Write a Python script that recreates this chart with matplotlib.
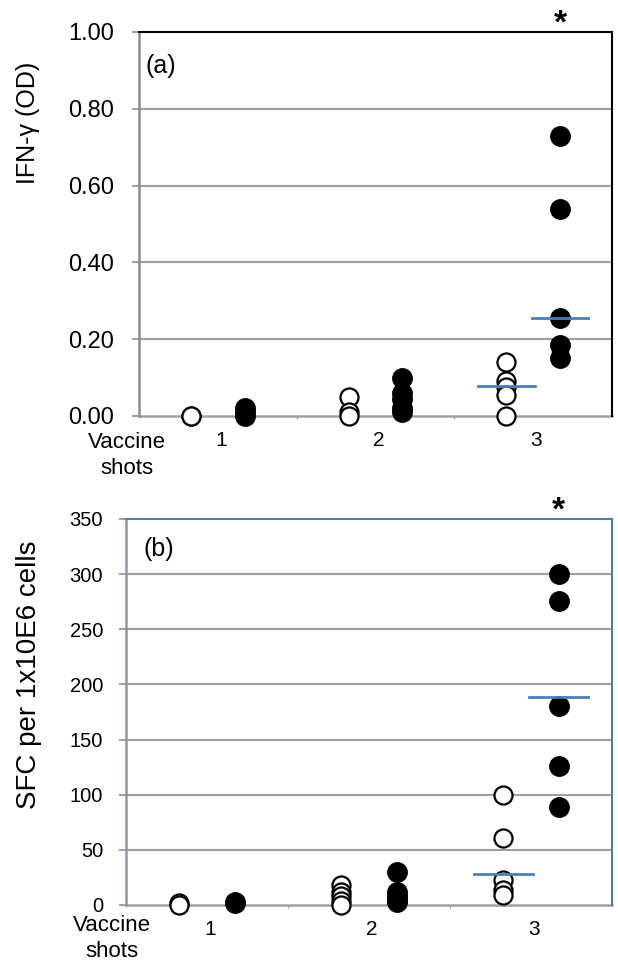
import matplotlib
matplotlib.use("Agg")
import matplotlib.pyplot as plt
import matplotlib.transforms as mtransforms

plt.rcParams['font.family'] = ['Liberation Sans', 'DejaVu Sans']

# data
shots = [1, 2, 3]
shot_labels = ['1', '2', '3']

ifn_ctrl = [[0.0, 0.0], [0.05, 0.01, 0.0], [0.14, 0.09, 0.075, 0.055, 0.0]]
ifn_vacc = [[0.02, 0.01, 0.0], [0.10, 0.06, 0.045, 0.02, 0.01], [0.73, 0.54, 0.255, 0.185, 0.15]]
ifn_line_ctrl = 0.077
ifn_line_vacc = 0.255
ifn_ticks = [0.0, 0.2, 0.4, 0.6, 0.8, 1.0]

sfc_ctrl = [[2, 0], [18, 12, 8, 4, 0], [100, 61, 23, 14, 9]]
sfc_vacc = [[3, 2], [30, 12, 8, 5, 3], [300, 276, 180, 126, 89]]
sfc_line_ctrl = 28
sfc_line_vacc = 189
sfc_ticks = [0, 50, 100, 150, 200, 250, 300, 350]

W, H = 618, 968
OFF = 0.17
HALF = 0.18
GRID = '#a0a0a0'
BLUE = '#4a7ebb'


def panel(rect, ctrl, vacc, line_ctrl, line_vacc, ticks, fmt, ylabel, label_y, tag, tag_pos,
          box_color, left_color, tick_fs, tick_pad, label_fs):
    ax = plt.gcf().add_axes(rect)
    ax.set_xlim(0.5, 3.5)
    ax.set_ylim(ticks[0], ticks[-1])
    ax.set_yticks(ticks)
    ax.set_yticklabels([fmt.format(t) for t in ticks], fontsize=tick_fs)
    for t in ticks[1:-1]:
        ax.axhline(t, color=GRID, lw=1.5, zorder=0)
    ax.axhline(ticks[0], color=GRID, lw=1.8, zorder=0, clip_on=False)
    ax.set_xticks([1.5, 2.5])
    ax.set_xticklabels([])
    ax.tick_params(axis='x', length=2, color=GRID, direction='out')
    ax.tick_params(axis='y', length=5, color=GRID, width=1.5, pad=tick_pad)
    trans = mtransforms.blended_transform_factory(ax.transData, ax.transAxes)
    for x, label in zip(shots, shot_labels):
        ax.text(x + 0.02, -0.038, label, transform=trans, ha='center', va='top', fontsize=15)

    for i, x in enumerate(shots):
        ax.plot([x - OFF] * len(ctrl[i]), ctrl[i], 'o', ms=13, mfc='white', mec='black', mew=1.6,
                clip_on=False, zorder=3)
        ax.plot([x + OFF] * len(vacc[i]), vacc[i], 'o', ms=14, mfc='black', mec='black',
                clip_on=False, zorder=3)
    ax.plot([3 - OFF - HALF, 3 - OFF + HALF], [line_ctrl, line_ctrl], color=BLUE, lw=2, zorder=4)
    ax.plot([3 + OFF - HALF, 3 + OFF + HALF], [line_vacc, line_vacc], color=BLUE, lw=2, zorder=4)

    for side in ['top', 'right']:
        ax.spines[side].set_color(box_color)
        ax.spines[side].set_linewidth(1.5)
    ax.spines['left'].set_color(left_color)
    ax.spines['left'].set_linewidth(1.8)
    ax.spines['bottom'].set_visible(False)

    ax.set_ylabel(ylabel, fontsize=label_fs, labelpad=20)
    ax.yaxis.label.set_y(label_y)
    ax.text(tag_pos[0], tag_pos[1], tag, transform=ax.transAxes, fontsize=18, va='center')
    ax.text(3 + OFF, 1.02, '*', transform=trans, ha='center', va='center', fontsize=24, fontweight='bold')
    return ax


fig = plt.figure(figsize=(W / 100, H / 100), dpi=100)

ax1 = panel([139 / W, 1 - 416 / H, (612 - 139) / W, 384 / H], ifn_ctrl, ifn_vacc,
            ifn_line_ctrl, ifn_line_vacc, ifn_ticks, '{:.2f}', 'IFN-γ (OD)', 0.763, '(a)', (0.013, 0.911),
            'black', '#8c8c8c', 17, 13, 18)
fig.text(127 / W, 1 - 432 / H, 'Vaccine\nshots', ha='center', va='top', fontsize=16, linespacing=1.3)

ax2 = panel([126 / W, 1 - 905 / H, (612 - 126) / W, 386 / H], sfc_ctrl, sfc_vacc,
            sfc_line_ctrl, sfc_line_vacc, sfc_ticks, '{:d}', 'SFC per 1x10E6 cells', 0.596, '(b)', (0.037, 0.922),
            BLUE, '#8a96a8', 14.5, 11.5, 20)
fig.text(112 / W, 1 - 915 / H, 'Vaccine\nshots', ha='center', va='top', fontsize=16, linespacing=1.3)

fig.savefig('out.png', dpi=100)
